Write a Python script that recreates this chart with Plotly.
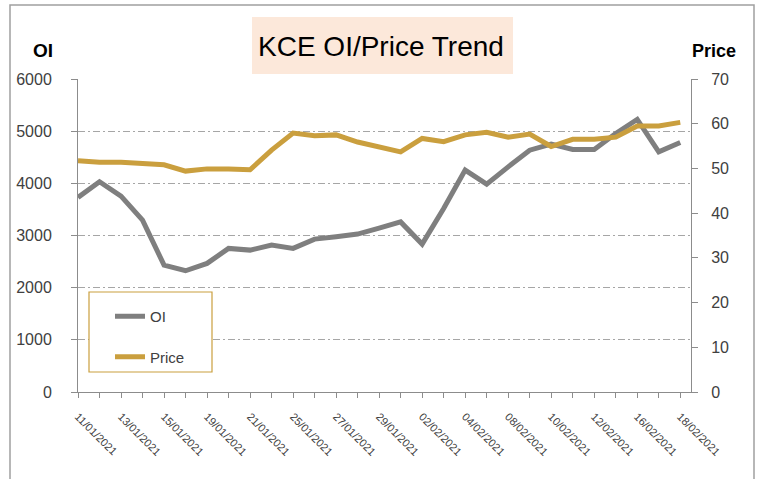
import plotly.graph_objects as go

dates = ["11/01/2021","12/01/2021","13/01/2021","14/01/2021","15/01/2021","18/01/2021","19/01/2021",
         "20/01/2021","21/01/2021","22/01/2021","25/01/2021","26/01/2021","27/01/2021","28/01/2021",
         "29/01/2021","01/02/2021","02/02/2021","03/02/2021","04/02/2021","05/02/2021","08/02/2021",
         "09/02/2021","10/02/2021","11/02/2021","12/02/2021","15/02/2021","16/02/2021","17/02/2021",
         "18/02/2021"]
oi = [3730, 4030, 3755, 3295, 2433, 2324, 2465, 2753, 2720, 2816, 2753, 2931, 2975, 3027,
      3140, 3260, 2835, 3519, 4253, 3985, 4316, 4636, 4751, 4649, 4649, 4956, 5224, 4604, 4783]
price = [51.7, 51.4, 51.4, 51.1, 50.8, 49.4, 49.9, 49.9, 49.7, 54.1, 57.9, 57.3, 57.5, 55.9,
         54.9, 53.7, 56.7, 56.0, 57.5, 58.1, 57.0, 57.7, 54.9, 56.5, 56.5, 57.0, 59.5, 59.5, 60.3]
oi_ticks = [0, 1000, 2000, 3000, 4000, 5000, 6000]
price_ticks = [0, 10, 20, 30, 40, 50, 60, 70]

idx = list(range(len(dates)))
ticktext = [d if i % 2 == 0 else "" for i, d in enumerate(dates)]

GRAY = "#7F7F7F"
GOLD = "#CA9F3E"
AX = "#8C8C8C"
TXT = "#404040"
FONT = "Liberation Sans, Arial, sans-serif"

fig = go.Figure()
fig.add_trace(go.Scatter(x=idx, y=oi, name="OI", mode="lines", legendgroup="a",
                         line=dict(color=GRAY, width=5)))
fig.add_trace(go.Scatter(x=idx, y=price, name="Price", mode="lines", legendgroup="b",
                         yaxis="y2", line=dict(color=GOLD, width=5)))

fig.update_layout(
    width=763, height=479,
    margin=dict(l=78, r=72, t=79, b=87),
    paper_bgcolor="white", plot_bgcolor="white",
    font=dict(family=FONT, color=TXT),
    showlegend=True,
    legend=dict(x=(110 - 78) / 613, y=(392 - 300) / 313, xanchor="left", yanchor="top",
                bgcolor="rgba(0,0,0,0)", borderwidth=0, font=dict(size=15, color=TXT),
                traceorder="grouped", tracegroupgap=18, itemwidth=30),
    xaxis=dict(range=[0, 28.5], tickmode="array", tickvals=idx, ticktext=ticktext,
               tickangle=45, ticks="outside", ticklen=5, tickcolor=AX,
               showline=True, linecolor=AX, linewidth=1, showgrid=False, zeroline=False,
               tickfont=dict(size=11, color=TXT), ticklabelstandoff=8),
    yaxis=dict(range=[0, 6000], tickvals=oi_ticks, ticks="outside", ticklen=6, tickcolor=AX,
               showline=True, linecolor=AX, linewidth=1, zeroline=False,
               showgrid=True, gridcolor="#A6A6A6", gridwidth=1, griddash="7px,3px,2px,3px",
               tickfont=dict(size=16, color=TXT), ticklabelstandoff=16),
    yaxis2=dict(range=[0, 70], tickvals=price_ticks, overlaying="y", side="right",
                ticks="outside", ticklen=6, tickcolor=AX,
                showline=True, linecolor=AX, linewidth=1, zeroline=False, showgrid=False,
                tickfont=dict(size=16, color=TXT), ticklabelstandoff=10),
)

def px_x(p):
    return (p - 78) / 613

def px_y(p):
    return (392 - p) / 313

fig.add_shape(type="rect", xref="paper", yref="paper",
              x0=px_x(10), x1=px_x(754), y0=px_y(495), y1=px_y(5),
              line=dict(color="#A0A0A0", width=1.5), layer="below")
fig.add_shape(type="rect", xref="paper", yref="paper",
              x0=px_x(252), x1=px_x(513), y0=px_y(74), y1=px_y(17),
              line=dict(width=0), fillcolor="#FCE8DA", layer="below")
fig.add_shape(type="rect", xref="paper", yref="paper",
              x0=px_x(89), x1=px_x(212), y0=px_y(372), y1=px_y(292),
              line=dict(color=GOLD, width=1.2), fillcolor="white", layer="above")

fig.add_annotation(text="KCE OI/Price Trend", xref="paper", yref="paper",
                   x=px_x(381), y=px_y(46), showarrow=False, xanchor="center", yanchor="middle",
                   font=dict(size=28, color="#000000", family=FONT))
fig.add_annotation(text="<b>OI</b>", xref="paper", yref="paper",
                   x=px_x(43), y=px_y(51), showarrow=False, xanchor="center", yanchor="middle",
                   font=dict(size=19, color="#000000", family=FONT))
fig.add_annotation(text="<b>Price</b>", xref="paper", yref="paper",
                   x=px_x(714), y=px_y(51), showarrow=False, xanchor="center", yanchor="middle",
                   font=dict(size=18, color="#000000", family=FONT))

fig.write_html("out.html", config={"displayModeBar": False},
               post_script="document.body.style.margin='0';")
